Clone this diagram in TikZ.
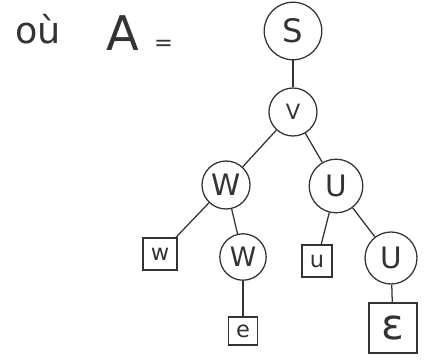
\documentclass[tikz,border=0pt]{standalone}
\usepackage{fontspec}
\setmainfont{DejaVu Sans}
\usetikzlibrary{positioning}

\begin{document}
\begin{tikzpicture}[color=black!80, line width=0.9pt,
  var/.style={circle, draw, inner sep=0pt, font=\fontsize{21}{21}\selectfont},
  leaf/.style={rectangle, draw, inner sep=0pt, font=\fontsize{16}{16}\selectfont}]
\useasboundingbox (0,0) rectangle (10.775,9.025);
\node[font=\fontsize{26}{26}\selectfont] (ou) at (0.95,8.3) {où};
\node[font=\fontsize{34}{34}\selectfont] (A) at (3.08,8.2) {A};
\node[font=\fontsize{16}{16}\selectfont, right=0.1 of A, yshift=-9pt] (eq) {=};
\node[var, minimum size=14.4mm, font=\fontsize{23}{23}\selectfont] (S) at (7.325,8.25) {S};
\node[var, minimum size=12mm, font=\fontsize{15}{15}\selectfont] (V) at (7.325,6.225) {V};
\node[var, minimum size=12mm] (W) at (5.65,4.4) {W};
\node[var, minimum size=13.4mm] (U) at (8.4,4.375) {U};
\node[leaf, minimum width=8.5mm, minimum height=8mm] (w) at (4.0,2.675) {w};
\node[var, minimum size=11.6mm, font=\fontsize{19}{19}\selectfont] (W2) at (6.075,2.6) {W};
\node[leaf, minimum width=7.5mm, minimum height=8mm] (u) at (7.925,2.5) {u};
\node[var, minimum size=13mm] (U2) at (9.775,2.575) {U};
\node[leaf, minimum width=7.2mm, minimum height=7mm] (e) at (6.075,0.75) {e};
\node[leaf, minimum width=12mm, minimum height=12.5mm, font=\fontsize{30}{30}\selectfont] (eps) at (9.825,0.825) {ε};
\draw (S) -- (V);
\draw (V) -- (W);
\draw (V) -- (U);
\draw (W) -- (w);
\draw (W) -- (W2);
\draw (W2) -- (e);
\draw (U) -- (u);
\draw (U) -- (U2);
\draw (U2) -- (eps);
\end{tikzpicture}
\end{document}
